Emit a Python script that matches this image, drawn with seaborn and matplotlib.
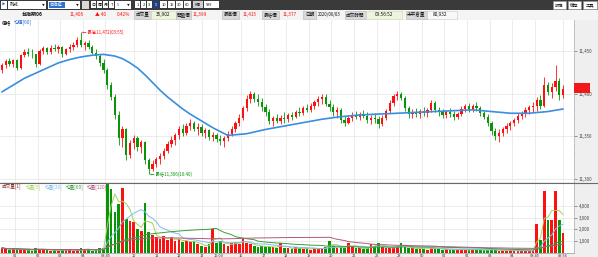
import numpy as np
import pandas as pd
import matplotlib
matplotlib.use("Agg")
import matplotlib.pyplot as plt
import seaborn as sns
from matplotlib.patches import Rectangle
from matplotlib.ticker import MultipleLocator, FuncFormatter

sns.set_theme(style="white")
plt.rcParams['font.family'] = ['Noto Sans CJK TC', 'DejaVu Sans']
plt.rcParams['axes.unicode_minus'] = False

# ---------------- data (10-minute bars) ----------------
opens = [11428, 11433, 11438, 11435, 11439, 11430, 11445, 11449, 11447, 11446,
         11435, 11450, 11453, 11449, 11454, 11452, 11455, 11446, 11452, 11455,
         11457, 11463, 11457, 11459, 11455, 11448, 11444, 11436, 11428, 11410,
         11396, 11375, 11348, 11358, 11328, 11342, 11348, 11337, 11343, 11322,
         11312, 11318, 11323, 11327, 11333, 11341, 11346, 11351, 11358, 11354,
         11362, 11366, 11359, 11361, 11354, 11357, 11349, 11352, 11347, 11345,
         11348, 11353, 11359, 11365, 11372, 11383, 11394, 11399, 11394, 11390,
         11384, 11378, 11368, 11371, 11368, 11372, 11370, 11375, 11373, 11379,
         11377, 11383, 11381, 11386, 11390, 11394, 11396, 11388, 11384, 11378,
         11381, 11369, 11366, 11371, 11375, 11373, 11376, 11374, 11369, 11372,
         11370, 11364, 11372, 11380, 11389, 11397, 11399, 11395, 11383, 11376,
         11379, 11376, 11380, 11377, 11381, 11389, 11381, 11378, 11375, 11379,
         11376, 11373, 11376, 11382, 11385, 11382, 11386, 11383, 11377, 11373,
         11365, 11356, 11350, 11354, 11358, 11362, 11365, 11369, 11374, 11377,
         11381, 11384, 11386, 11393, 11385, 11410, 11402, 11408, 11415, 11398]
highs = [11436, 11440, 11442, 11441, 11440, 11447, 11452, 11453, 11452, 11447,
         11452, 11456, 11455, 11457, 11458, 11457, 11456, 11454, 11458, 11460,
         11466, 11472, 11462, 11463, 11457, 11452, 11446, 11440, 11430, 11414,
         11400, 11380, 11362, 11360, 11346, 11352, 11350, 11346, 11345, 11324,
         11322, 11326, 11330, 11336, 11344, 11350, 11354, 11362, 11364, 11366,
         11370, 11368, 11365, 11364, 11360, 11359, 11355, 11354, 11352, 11350,
         11356, 11362, 11368, 11376, 11386, 11398, 11403, 11402, 11399, 11395,
         11388, 11382, 11374, 11376, 11375, 11378, 11377, 11379, 11381, 11384,
         11386, 11388, 11389, 11393, 11397, 11400, 11399, 11392, 11388, 11384,
         11383, 11374, 11374, 11378, 11380, 11379, 11381, 11378, 11375, 11377,
         11374, 11375, 11382, 11392, 11400, 11403, 11402, 11397, 11386, 11382,
         11383, 11382, 11384, 11383, 11392, 11391, 11384, 11382, 11381, 11383,
         11380, 11378, 11385, 11388, 11389, 11388, 11390, 11386, 11380, 11376,
         11368, 11360, 11358, 11361, 11365, 11368, 11372, 11377, 11380, 11384,
         11387, 11390, 11396, 11398, 11419, 11414, 11412, 11434, 11418, 11410]
lows = [11424, 11430, 11432, 11431, 11428, 11429, 11443, 11444, 11442, 11431,
        11434, 11447, 11446, 11447, 11450, 11448, 11443, 11445, 11449, 11451,
        11455, 11455, 11451, 11452, 11446, 11441, 11432, 11424, 11405, 11392,
        11370, 11340, 11338, 11322, 11325, 11335, 11333, 11330, 11318, 11306,
        11309, 11314, 11318, 11323, 11330, 11337, 11340, 11347, 11350, 11351,
        11357, 11356, 11352, 11350, 11348, 11346, 11344, 11343, 11340, 11338,
        11344, 11350, 11355, 11362, 11369, 11380, 11389, 11390, 11386, 11380,
        11374, 11364, 11362, 11365, 11364, 11366, 11367, 11369, 11371, 11374,
        11375, 11378, 11378, 11382, 11386, 11388, 11385, 11380, 11374, 11372,
        11366, 11362, 11364, 11368, 11370, 11369, 11371, 11366, 11364, 11366,
        11360, 11362, 11369, 11377, 11386, 11392, 11392, 11380, 11372, 11372,
        11373, 11372, 11374, 11373, 11378, 11378, 11374, 11372, 11371, 11373,
        11369, 11370, 11374, 11378, 11379, 11378, 11380, 11374, 11370, 11362,
        11352, 11346, 11343, 11350, 11354, 11357, 11362, 11366, 11370, 11373,
        11376, 11378, 11380, 11382, 11384, 11398, 11395, 11403, 11393, 11395]
closes = [11433, 11438, 11435, 11439, 11430, 11445, 11449, 11447, 11446, 11435,
          11450, 11453, 11449, 11454, 11452, 11455, 11446, 11452, 11455, 11457,
          11463, 11457, 11459, 11455, 11448, 11444, 11436, 11428, 11410, 11396,
          11375, 11348, 11358, 11328, 11342, 11348, 11337, 11343, 11322, 11312,
          11318, 11323, 11327, 11333, 11341, 11346, 11351, 11358, 11354, 11362,
          11366, 11359, 11361, 11354, 11357, 11349, 11352, 11347, 11345, 11348,
          11353, 11359, 11365, 11372, 11383, 11394, 11399, 11394, 11390, 11384,
          11378, 11368, 11371, 11368, 11372, 11370, 11375, 11373, 11379, 11377,
          11383, 11381, 11386, 11390, 11394, 11396, 11388, 11384, 11378, 11381,
          11369, 11366, 11371, 11375, 11373, 11376, 11374, 11369, 11372, 11370,
          11364, 11372, 11380, 11389, 11397, 11399, 11395, 11383, 11376, 11379,
          11376, 11380, 11377, 11381, 11389, 11381, 11378, 11375, 11379, 11376,
          11373, 11376, 11382, 11385, 11382, 11386, 11383, 11377, 11373, 11365,
          11356, 11350, 11354, 11358, 11362, 11365, 11369, 11374, 11377, 11381,
          11384, 11386, 11393, 11385, 11410, 11402, 11408, 11415, 11398, 11406]
volumes = [400, 300, 250, 350, 300, 200, 250, 200, 150, 350,
           300, 200, 250, 150, 200, 150, 300, 200, 250, 150,
           200, 350, 250, 300, 150, 200, 350, 400,
           6200, 5500, 3500, 4200, 5600, 2900, 2700, 2600, 2000, 1900,
           4300, 1800, 1500, 1300, 1200, 1400, 1100, 1300, 1000, 1200,
           900, 1000, 900, 1000, 700, 600, 500, 700, 2000, 800,
           1000, 700, 600, 800, 900, 700,
           1200, 800, 700, 600, 500, 600, 450, 500,
           500, 400, 800, 350, 400, 300, 450, 350,
           300, 350, 250, 400, 300, 350, 450, 1000,
           600, 400, 500, 350, 850, 500, 400, 350,
           300, 400, 700, 600, 800, 500, 400, 350,
           450, 600, 800, 500, 400, 350, 300, 400,
           300, 250, 450, 350, 300, 250, 300, 200,
           250, 300, 200, 250, 200, 300, 250, 200,
           200, 250, 300, 200, 150, 200, 150, 200,
           150, 100, 200, 150, 100, 150,
           2500, 1100, 5300, 2800, 2800, 5300, 2800, 1700]

# average-price line (均價[60]) read at bar indices
avg_bars = [0, 3, 6, 9, 12, 15, 18, 21, 24, 27, 30, 32, 34, 36, 38, 40, 42, 44,
            46, 48, 50, 53, 56, 60, 65, 70, 75, 80, 85, 90, 95, 100, 105, 110,
            115, 120, 125, 130, 135, 140, 145, 149]
avg_price = [11402, 11410, 11418, 11424, 11430, 11436, 11440, 11443, 11445, 11446,
             11444, 11441, 11436, 11430, 11422, 11413, 11404, 11396, 11389, 11382,
             11376, 11368, 11360, 11351, 11353, 11358, 11362, 11366, 11370, 11373,
             11375, 11376, 11377, 11378, 11379, 11380, 11381, 11379, 11377, 11377,
             11379, 11382]

vol_ma_labels = ['均量[5]', '均量[20]', '均量[60]', '均量[120]']
vol_ma_windows = [3, 10, 30, 60]

xtick_pos = [3.5, 9.5, 15.5, 21.5, 27.5, 35.0, 41.0, 47.0, 53.0, 57.5,
             63.5, 69.5, 75.5, 81.5, 87.5, 93.5, 99.5, 105.5, 111.5, 117.5,
             123.5, 129.5, 135.5, 141.5, 149.0]
xtick_labels = ['01', '02', '03', '04', '08:45', '10', '11', '12', '13', '15:00',
                '16', '17', '18', '19', '20', '21', '22', '23', '00', '01',
                '02', '03', '04', '08:45', '09:56']
price_ticks = [11300, 11350, 11400, 11450]
vol_ticks = [1000, 2000, 3000, 4000]

# ---------------- figure ----------------
W, H = 598, 257
RED = '#ff1010'
GREEN = '#089608'
fig = plt.figure(figsize=(W / 100, H / 100), dpi=100, facecolor='#efefef')


def fx(x):
    return x / W


def fy(y):
    return 1 - y / H


def box(x0, y0, x1, y1, fc, ec='none', lw=0.4, z=1):
    fig.patches.append(Rectangle((fx(x0), fy(y1)), (x1 - x0) / W, (y1 - y0) / H,
                                 transform=fig.transFigure, fc=fc, ec=ec, lw=lw, zorder=z))


def ftxt(x, y, s, color='#111111', size=3.4, ha='left', weight='normal'):
    fig.text(fx(x), fy(y), s, color=color, fontsize=size, ha=ha, va='center',
             fontweight=weight, zorder=5)


# toolbar
box(0, 0, W, 9.5, '#3a3a3a')
box(0.5, 1, 7, 8.5, 'white'); ftxt(3.7, 4.9, '▶', color='#2a62c0', size=2.4, ha='center')
box(8, 1, 46, 8.5, 'white'); ftxt(10, 4.9, '列式', size=3.2); ftxt(43, 4.9, '▼', size=2.0, ha='center')
box(48, 1, 80, 8.5, 'white'); box(49, 2, 65, 7.8, '#2f6fd6', z=2)
ftxt(50, 4.9, '台指近', color='white', size=3.1); ftxt(77, 4.9, '▼', size=2.0, ha='center')
box(82, 1, 89, 8.5, '#d8d8d8')
for xx, s in zip([91, 97, 103, 109], ['日', '周', '月', 'T']):
    box(xx, 1.5, xx + 5.2, 8.2, 'white'); ftxt(xx + 2.6, 4.9, s, size=2.9, ha='center')
box(115, 1, 131, 8.5, 'white'); ftxt(117, 4.9, '5', color='#2a62c0', size=3.0); ftxt(128, 4.9, '▼', size=2.0, ha='center')
for (x0, x1), s in zip([(135, 140), (141, 146), (147, 152), (153, 159), (160, 167),
                        (168, 175), (176, 183), (184, 191)],
                       ['1', '2', '3', '5', '10', '15', '30', '60']):
    fc = '#1d3f8f' if s == '5' else 'white'
    tc = 'white' if s == '5' else '#111111'
    box(x0, 1.5, x1, 8.2, fc); ftxt((x0 + x1) / 2, 4.9, s, color=tc, size=2.9, ha='center')
box(193, 1.5, 203, 8.2, '#cfcfcf'); ftxt(198, 4.9, 'K棒', size=2.7, ha='center')
box(204, 1.5, 219, 8.2, 'white'); ftxt(206, 4.9, '999', size=2.9)
for (x0, x1), s in zip([(553, 566), (568, 581), (583, 597)], ['設定', '儲存', '工具']):
    box(x0, 1.5, x1, 8.5, 'white', ec='#999999'); ftxt((x0 + x1) / 2, 5.0, s, size=3.1, ha='center')

# info row
box(0, 9.5, W, 19.5, '#f4f4f4')


def lab(x0, x1, s):
    box(x0, 11, x1, 18.5, '#d9d9d9', ec='#b5b5b5')
    ftxt((x0 + x1) / 2, 14.8, s, size=3.3, ha='center')


ftxt(22, 14.8, '台指期06', weight='bold', size=3.6)
ftxt(70, 14.8, '11,406', color=RED)
ftxt(95, 14.8, '▲ 40', color=RED)
ftxt(117, 14.8, '0.42%', color=RED)
lab(134, 151, '成交量')
box(151, 11, 176, 18.5, '#eef5dd', ec='#c9d6b3'); ftxt(163.5, 14.8, '35,902', ha='center')
lab(176, 191, '開盤價'); ftxt(193, 14.8, '11,399', color=RED)
lab(222, 239, '最高價'); ftxt(243, 14.8, '11,415', color=RED)
lab(262, 279, '最低價'); ftxt(283, 14.8, '11,377', color=RED)
lab(303, 316, '日期'); ftxt(318, 14.8, '2020/06/03', size=3.1)
lab(345, 366, '成交時間')
box(366, 11, 402, 18.5, '#eef5dd', ec='#c9d6b3'); ftxt(384, 14.8, '09:56:52', ha='center')
lab(406, 427, '未平倉量')
box(427, 11, 457, 18.5, '#f8f8f8', ec='#c8c8c8'); ftxt(433, 14.8, '80,932')

# ---------------- price panel ----------------
n = len(closes)
xs = np.arange(n)
o = np.array(opens); h = np.array(highs); l = np.array(lows); c = np.array(closes)
cols = np.where(c >= o, RED, GREEN)

ax = fig.add_axes([0, fy(182), fx(574), fy(20) - fy(182)])
ax.set_facecolor('white')
ax.vlines(xs, l, h, colors=cols, lw=0.6, zorder=3)
ax.bar(xs, np.maximum(np.abs(c - o), 0.8), bottom=np.minimum(o, c), width=0.6,
       color=cols, linewidth=0, zorder=4)
sns.lineplot(x=avg_bars, y=avg_price, ax=ax, color='#3a8ee0', lw=1.2, zorder=5)

ax.set_xlim(-0.5, 151.9)
ax.set_ylim(11296.4, 11486.3)
ax.set_xticks(xtick_pos)
ax.tick_params(axis='x', bottom=False, labelbottom=False)
ax.yaxis.tick_right()
ax.set_yticks(price_ticks)
ax.yaxis.set_major_formatter(FuncFormatter(lambda v, p: f'{int(v):,}'))
ax.yaxis.set_minor_locator(MultipleLocator(10))
ax.tick_params(axis='y', which='major', direction='out', length=2, width=0.4,
               colors='#444444', labelsize=3.2, pad=1.5)
ax.tick_params(axis='y', which='minor', direction='out', length=1, width=0.3, colors='#777777')
ax.grid(True, which='major', color='#e4e4e4', lw=0.5, zorder=0)
for s in ['top', 'left', 'bottom']:
    ax.spines[s].set_visible(False)
ax.spines['right'].set_color('#b0b0b0'); ax.spines['right'].set_linewidth(0.5)
ax.set_xlabel(''); ax.set_ylabel('')

# annotations
ax.text(21.4, 11472, '← 最高11,472(03:55)', color=RED, fontsize=3.2, va='center', ha='left', zorder=6)
ax.text(39.3, 11306, '← 最低11,306(10:40)', color=GREEN, fontsize=3.2, va='center', ha='left', zorder=6)
ftxt(2, 22.4, '價格', size=3.4)
ftxt(13.5, 22.4, '均價[60]', color='#2a6fd0', size=3.4)

# last price tag
box(574, 83, 589.5, 93, '#f01818', z=6)
ftxt(581.7, 85.6, '11,406', color='white', size=2.6, ha='center')
ftxt(581.7, 90.3, '0.42%', color='white', size=2.6, ha='center')

# separator
fig.add_artist(plt.Line2D([0, 1], [fy(182.6), fy(182.6)], transform=fig.transFigure,
                          color='#6a6a6a', lw=0.8, zorder=6))

# ---------------- volume panel ----------------
axv = fig.add_axes([0, fy(252.5), fx(574), fy(183.2) - fy(252.5)])
axv.set_facecolor('white')
axv.bar(xs, volumes, width=0.72, color=cols, linewidth=0, zorder=3)
vs = pd.Series(volumes, dtype=float)
ma_colors = ['#9fd45a', '#7cbcf0', '#3c9c3c', '#b05a7a']
for w, colr in zip(vol_ma_windows, ma_colors):
    sns.lineplot(x=xs, y=vs.rolling(w, min_periods=1).mean().values, ax=axv,
                 color=colr, lw=0.7, zorder=4)
axv.set_xlim(-0.5, 151.9)
axv.set_ylim(0, 6000)
axv.yaxis.tick_right()
axv.set_yticks(vol_ticks)
axv.yaxis.set_major_formatter(FuncFormatter(lambda v, p: f'{int(v):,}'))
axv.yaxis.set_minor_locator(MultipleLocator(500))
axv.tick_params(axis='y', which='major', direction='out', length=2, width=0.4,
                colors='#444444', labelsize=3.2, pad=1.5)
axv.tick_params(axis='y', which='minor', direction='out', length=1, width=0.3, colors='#777777')
axv.set_xticks(xtick_pos)
axv.set_xticklabels(xtick_labels)
axv.tick_params(axis='x', length=0, labelsize=2.8, colors='#333333', pad=1.0)
axv.grid(True, which='major', color='#e4e4e4', lw=0.5, zorder=0)
for s in ['top', 'left']:
    axv.spines[s].set_visible(False)
axv.spines['right'].set_color('#b0b0b0'); axv.spines['right'].set_linewidth(0.5)
axv.spines['bottom'].set_color('#9a9a9a'); axv.spines['bottom'].set_linewidth(0.5)
axv.set_xlabel(''); axv.set_ylabel('')

ftxt(2, 187, '成交量[1]', color='#8a2a2a', size=3.3)
for xx, s, colr in zip([26, 45, 66, 87], vol_ma_labels, ma_colors):
    ftxt(xx, 187, s, color=colr, size=3.3)

fig.savefig('out.png', dpi=100, facecolor=fig.get_facecolor())
